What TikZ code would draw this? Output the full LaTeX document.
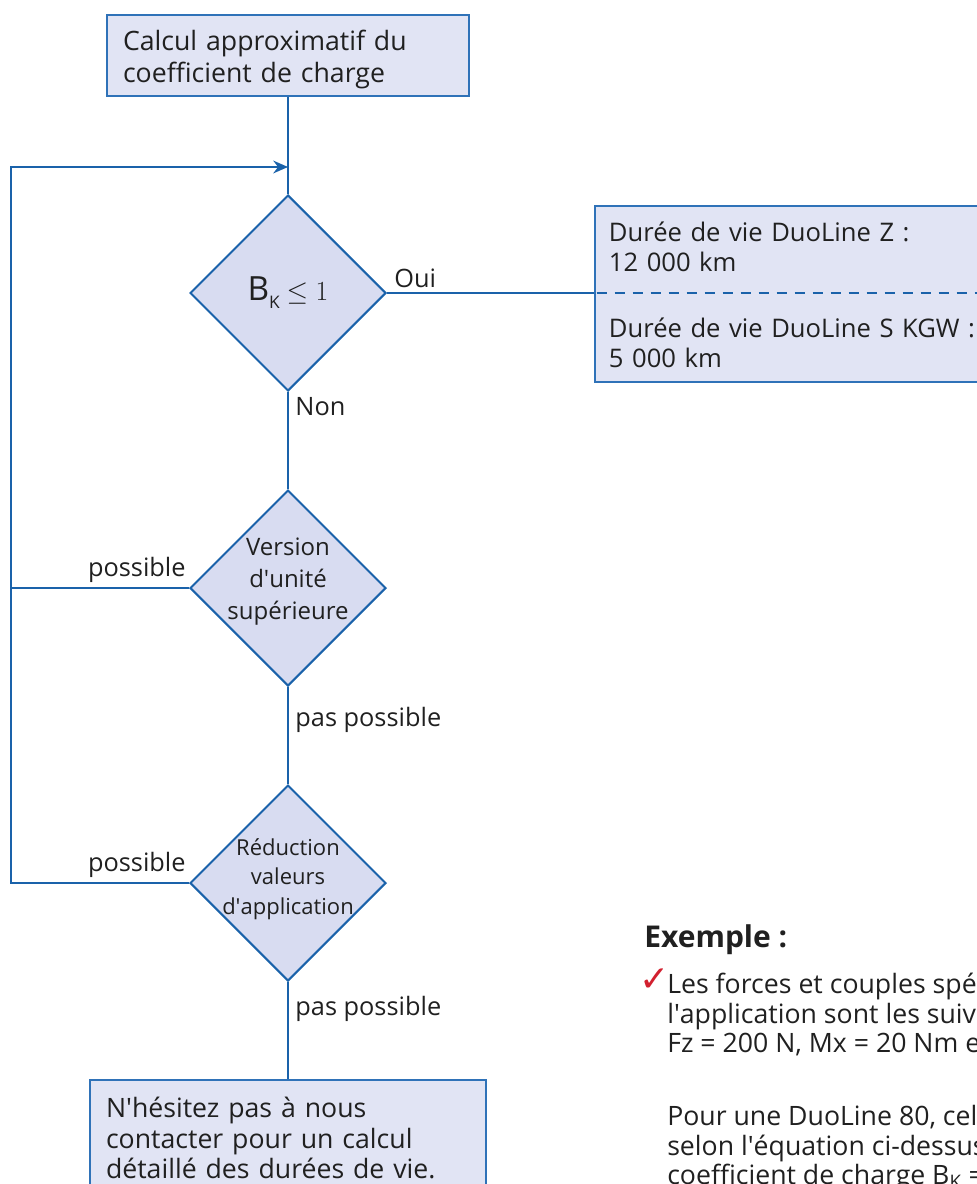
\documentclass[tikz,border=0pt]{standalone}
\usepackage{fontspec}
\setmainfont{Open Sans}
\newfontfamily\symbfont{DejaVu Sans}
\usepackage{xcolor}
\definecolor{colorLine}{HTML}{1A62AA}
\definecolor{colorBorder}{HTML}{2F72B8}
\definecolor{colorBox}{HTML}{E1E4F4}
\definecolor{colorDiamond}{HTML}{D8DCF1}
\definecolor{colorText}{HTML}{202020}
\definecolor{colorCheck}{HTML}{D2202F}
\usetikzlibrary{arrows.meta, shapes.geometric, positioning}
\newcommand{\qt}{\textquotesingle}
\tikzset{
  flow/.style={draw=colorLine, line width=2.1pt},
  box/.style={draw=colorBorder, line width=1.5pt, fill=colorBox, text=colorText, align=left,
    inner xsep=12pt, font=\fontsize{20}{23}\selectfont},
  halfbox/.style={text=colorText, align=left, inner xsep=11pt,
    font=\fontsize{19.2}{22.5}\selectfont},
  choice/.style={diamond, draw=colorLine, line width=1.5pt, fill=colorDiamond, inner sep=0pt,
    minimum width=147pt, minimum height=147pt, shape aspect=1},
  lbl/.style={text=colorText, font=\fontsize{19}{22}\selectfont, inner ysep=3pt, inner xsep=4.5pt},
  txt/.style={text=colorText, inner sep=0pt, align=left}
}

\begin{document}
\begin{tikzpicture}[>={Stealth[length=11pt, width=9.5pt]}, x=0.75pt, y=-0.75pt]
\useasboundingbox (0,0) rectangle (977,1184);
% flowchart
\node[box, text width=247.5pt, minimum height=60.75pt, font=\fontsize{20}{24}\selectfont] (b0) at (288,55.5) {\rule{0pt}{22pt}Calcul approximatif du\\coefficient de charge\rule[-6pt]{0pt}{0pt}};
\node[choice, label={[text=colorText]center:{\fontsize{25}{25}\selectfont B}\raisebox{-6pt}{\fontsize{13}{13}\selectfont K}\hspace{5pt}{\fontsize{20}{20}\selectfont$\leq 1$}}] (d1) at (288,293) {};
\node[choice, label={[text=colorText, align=center, font=\fontsize{18}{24}\selectfont, yshift=4.5pt]center:Version\\d\qt unité\\supérieure}] (d2) at (288,588) {};
\node[choice, label={[text=colorText, align=center, font=\fontsize{16.5}{22}\selectfont, yshift=3pt]center:Réduction\\valeurs\\d\qt application}] (d3) at (288,883) {};
\node[box, text width=273pt, minimum height=87pt, anchor=north] (b3) at (288,1079) {N\qt hésitez pas à nous\\contacter pour un calcul\\détaillé des durées de vie.};
% result box
\node[box, minimum width=380pt, minimum height=132pt, anchor=north west] (z0) at (594,205) {};
\node[halfbox, text width=300pt, minimum height=66pt, anchor=south west, yshift=1.5pt] (z1) at (594,293) {Durée de vie DuoLine Z :\\12 000 km};
\node[halfbox, text width=300pt, minimum height=66pt, anchor=north west, yshift=-4pt, inner ysep=0pt] (z2) at (594,293) {Durée de vie DuoLine S KGW :\\5 000 km};
\draw[flow, line width=1.9pt, dash pattern=on 7.5pt off 6pt, dash phase=-2pt] (d1.east -| z0.west) -- (d1.east -| z0.east);
% connectors
\coordinate (j) at (288,167);
\coordinate (k) at (11,167);
\draw[flow] (b0.south) -- (d1.north);
\draw[flow] (d1.east) -- node[lbl, pos=0, anchor=south west] (oui) {Oui} (d1.east -| z0.west);
\draw[flow] (d1.south) -- node[lbl, pos=0, anchor=north west] (non) {Non} (d2.north);
\draw[flow] (d2.south) -- node[lbl, pos=0.34, anchor=west] (pp1) {pas possible} (d3.north);
\draw[flow] (d3.south) -- node[lbl, pos=0.28, anchor=west] (pp2) {pas possible} (b3.north);
\draw[flow] (d2.west) -- node[lbl, pos=0, anchor=south east, inner xsep=1.5pt] (p1) {possible} (d2.west -| k);
\draw[flow, ->] (d3.west) -- node[lbl, pos=0, anchor=south east, inner xsep=1.5pt] (p2) {possible} (d3.west -| k) -- (k) -- (j);
% example
\node[txt, anchor=west, font=\fontsize{22.5}{24}\selectfont\bfseries] (ex) at (644,940) {Exemple :};
\node[txt, text=colorCheck, font=\symbfont\fontsize{27}{27}\selectfont] (chk) at (655,980) {✓};
\node[txt, anchor=north west, font=\fontsize{20}{22}\selectfont] (exa) at (667,973) {Les forces et couples spéc\\l\qt application sont les suiv\\Fz = 200 N, Mx = 20 Nm e\\[33pt]Pour une DuoLine 80, cel\\selon l\qt équation ci-dessus\\coefficient de charge B\textsubscript{K} =};
\end{tikzpicture}
\end{document}
